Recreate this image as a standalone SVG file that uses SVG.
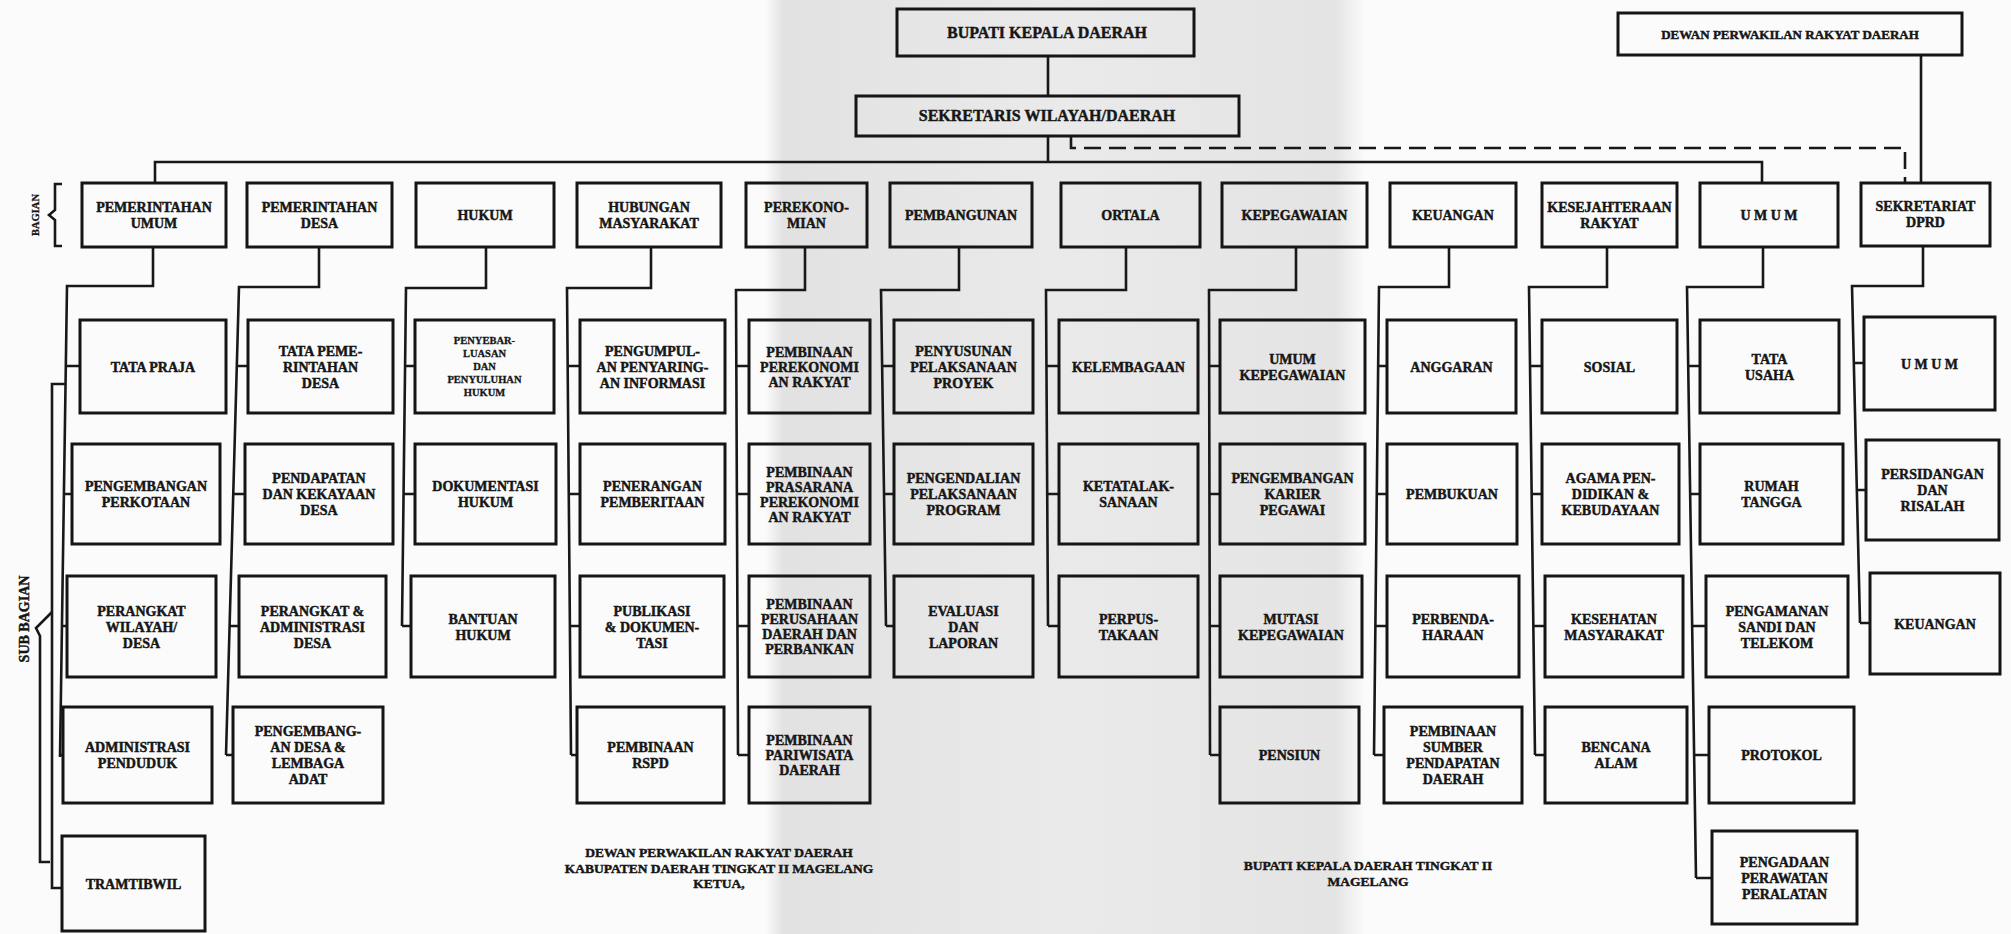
<svg xmlns="http://www.w3.org/2000/svg" width="2011" height="934" viewBox="0 0 2011 934">
<defs>
<linearGradient id="band" x1="0" y1="0" x2="1" y2="0">
<stop offset="0" stop-color="#fbfbfb"/>
<stop offset="0.03" stop-color="#e2e2e2"/>
<stop offset="0.5" stop-color="#eaeaea"/>
<stop offset="0.95" stop-color="#e4e4e4"/>
<stop offset="1" stop-color="#fbfbfb"/>
</linearGradient>
<style>
.bx{fill:none;stroke:#151515;stroke-width:3}
.ln{fill:none;stroke:#181818;stroke-width:2.6}
.ds{fill:none;stroke:#181818;stroke-width:2.6;stroke-dasharray:17 8}
.t{font-family:"Liberation Serif","Times New Roman",serif;font-weight:700;font-size:14px;fill:#161616;stroke:#161616;stroke-width:0.45;text-anchor:middle}
.s{font-size:10.5px;stroke-width:0.3}
.h{font-size:16px}
.m{font-size:13px}
.b{font-size:13.5px}
</style>
</defs>
<rect x="0" y="0" width="2011" height="934" fill="#fbfbfb"/>
<rect x="765" y="0" width="600" height="934" fill="url(#band)"/>

<g id="connectors">
<path class="ln" d="M1048 56V96M1048 136V162M155 183V162H1762V183M1921 55V183"/>
<path class="ds" d="M1071 136V148H1905V183"/>
<path class="ln" d="M153 247V286H67L60 757M66 366H80M64 494H72M62 626H67M60 755H64M66 384H52V888H62"/>
<path class="ln" d="M52 612L36 628L40 636V862H50"/>
<path class="ln" d="M62 184H55V210L49 215L55 220V246H62"/>
<path class="ln" d="M319 247V287H239L226 755M237 366H248M233 494H245M230 626H239M226 755H233"/>
<path class="ln" d="M486 247V288H406L402 626M405 366H415M404 494H415M402 626H411"/>
<path class="ln" d="M651 247V288H567L571 755M568 366H580M569 494H580M570 626H580M571 755H577"/>
<path class="ln" d="M805 247V290H736L738 755M736 366H749M737 494H749M737 626H749M738 755H749"/>
<path class="ln" d="M959 247V290H881L886 626M882 366H894M884 494H894M886 626H894"/>
<path class="ln" d="M1126 247V290H1046L1048 626M1046 366H1059M1047 494H1059M1048 626H1059"/>
<path class="ln" d="M1296 247V290H1209L1210 755M1209 366H1220M1209 494H1220M1210 626H1220M1210 755H1220"/>
<path class="ln" d="M1449 247V287H1379L1374 755M1378 366H1387M1377 494H1387M1376 626H1387M1374 755H1384"/>
<path class="ln" d="M1607 247V287H1529L1535 755M1530 366H1542M1532 494H1542M1533 626H1545M1535 755H1545"/>
<path class="ln" d="M1763 247V287H1687L1696 878M1688 366H1700M1690 494H1700M1692 626H1706M1694 755H1709M1696 878H1712"/>
<path class="ln" d="M1923 246V286H1852L1860 623M1854 363H1864M1857 490H1866M1860 623H1870"/>
</g>

<g id="bupati"><rect class="bx" x="897" y="9" width="297" height="47"/><text class="t h" x="1047" y="38">BUPATI KEPALA DAERAH</text></g>
<g id="sekwilda"><rect class="bx" x="856" y="96" width="383" height="40"/><text class="t h" x="1047" y="121">SEKRETARIS WILAYAH/DAERAH</text></g>
<g id="dprd"><rect class="bx" x="1618" y="13" width="344" height="42"/><text class="t m" x="1790" y="39">DEWAN PERWAKILAN RAKYAT DAERAH</text></g>

<g id="label-bagian"><text class="t s" transform="translate(39 215) rotate(-90)">BAGIAN</text></g>
<g id="label-subbagian"><text class="t" transform="translate(29 619) rotate(-90)">SUB BAGIAN</text></g>

<g id="b1"><rect class="bx" x="82" y="183" width="144" height="64"/><text class="t" x="154" y="212">PEMERINTAHAN<tspan x="154" dy="16">UMUM</tspan></text></g>
<g id="b2"><rect class="bx" x="247" y="183" width="145" height="64"/><text class="t" x="319.5" y="212">PEMERINTAHAN<tspan x="319.5" dy="16">DESA</tspan></text></g>
<g id="b3"><rect class="bx" x="416" y="183" width="138" height="64"/><text class="t" x="485" y="220">HUKUM</text></g>
<g id="b4"><rect class="bx" x="577" y="183" width="144" height="64"/><text class="t" x="649" y="212">HUBUNGAN<tspan x="649" dy="16">MASYARAKAT</tspan></text></g>
<g id="b5"><rect class="bx" x="746" y="183" width="121" height="64"/><text class="t" x="806.5" y="212">PEREKONO-<tspan x="806.5" dy="16">MIAN</tspan></text></g>
<g id="b6"><rect class="bx" x="890" y="183" width="142" height="64"/><text class="t" x="961" y="220">PEMBANGUNAN</text></g>
<g id="b7"><rect class="bx" x="1061" y="183" width="139" height="64"/><text class="t" x="1130.5" y="220">ORTALA</text></g>
<g id="b8"><rect class="bx" x="1222" y="183" width="145" height="64"/><text class="t" x="1294.5" y="220">KEPEGAWAIAN</text></g>
<g id="b9"><rect class="bx" x="1390" y="183" width="126" height="64"/><text class="t" x="1453" y="220">KEUANGAN</text></g>
<g id="b10"><rect class="bx" x="1542" y="183" width="135" height="64"/><text class="t" x="1609.5" y="212">KESEJAHTERAAN<tspan x="1609.5" dy="16">RAKYAT</tspan></text></g>
<g id="b11"><rect class="bx" x="1700" y="183" width="138" height="64"/><text class="t" x="1769" y="220">U M U M</text></g>
<g id="b12"><rect class="bx" x="1861" y="183" width="129" height="63"/><text class="t" x="1925.5" y="211">SEKRETARIAT<tspan x="1925.5" dy="16">DPRD</tspan></text></g>

<g id="s1-1"><rect class="bx" x="80" y="320" width="146" height="93"/><text class="t" x="153" y="371.5">TATA PRAJA</text></g>
<g id="s1-2"><rect class="bx" x="72" y="444" width="148" height="100"/><text class="t" x="146" y="491">PENGEMBANGAN<tspan x="146" dy="16">PERKOTAAN</tspan></text></g>
<g id="s1-3"><rect class="bx" x="67" y="576" width="149" height="101"/><text class="t" x="141.5" y="615.5">PERANGKAT<tspan x="141.5" dy="16">WILAYAH/</tspan><tspan x="141.5" dy="16">DESA</tspan></text></g>
<g id="s1-4"><rect class="bx" x="63" y="707" width="149" height="96"/><text class="t" x="137.5" y="752">ADMINISTRASI<tspan x="137.5" dy="16">PENDUDUK</tspan></text></g>
<g id="s1-5"><rect class="bx" x="62" y="836" width="143" height="95"/><text class="t" x="133.5" y="888.5">TRAMTIBWIL</text></g>

<g id="s2-1"><rect class="bx" x="248" y="320" width="145" height="93"/><text class="t" x="320.5" y="355.5">TATA PEME-<tspan x="320.5" dy="16">RINTAHAN</tspan><tspan x="320.5" dy="16">DESA</tspan></text></g>
<g id="s2-2"><rect class="bx" x="245" y="444" width="148" height="100"/><text class="t" x="319" y="483">PENDAPATAN<tspan x="319" dy="16">DAN KEKAYAAN</tspan><tspan x="319" dy="16">DESA</tspan></text></g>
<g id="s2-3"><rect class="bx" x="239" y="576" width="147" height="101"/><text class="t" x="312.5" y="615.5">PERANGKAT &amp;<tspan x="312.5" dy="16">ADMINISTRASI</tspan><tspan x="312.5" dy="16">DESA</tspan></text></g>
<g id="s2-4"><rect class="bx" x="233" y="707" width="150" height="96"/><text class="t" x="308" y="736">PENGEMBANG-<tspan x="308" dy="16">AN DESA &amp;</tspan><tspan x="308" dy="16">LEMBAGA</tspan><tspan x="308" dy="16">ADAT</tspan></text></g>

<g id="s3-1"><rect class="bx" x="415" y="320" width="139" height="93"/><text class="t s" x="484.5" y="344">PENYEBAR-<tspan x="484.5" dy="13">LUASAN</tspan><tspan x="484.5" dy="13">DAN</tspan><tspan x="484.5" dy="13">PENYULUHAN</tspan><tspan x="484.5" dy="13">HUKUM</tspan></text></g>
<g id="s3-2"><rect class="bx" x="415" y="444" width="141" height="100"/><text class="t" x="485.5" y="491">DOKUMENTASI<tspan x="485.5" dy="16">HUKUM</tspan></text></g>
<g id="s3-3"><rect class="bx" x="411" y="576" width="144" height="101"/><text class="t" x="483" y="623.5">BANTUAN<tspan x="483" dy="16">HUKUM</tspan></text></g>

<g id="s4-1"><rect class="bx" x="580" y="320" width="145" height="93"/><text class="t" x="652.5" y="355.5">PENGUMPUL-<tspan x="652.5" dy="16">AN PENYARING-</tspan><tspan x="652.5" dy="16">AN INFORMASI</tspan></text></g>
<g id="s4-2"><rect class="bx" x="580" y="444" width="145" height="100"/><text class="t" x="652.5" y="491">PENERANGAN<tspan x="652.5" dy="16">PEMBERITAAN</tspan></text></g>
<g id="s4-3"><rect class="bx" x="580" y="576" width="144" height="101"/><text class="t" x="652" y="615.5">PUBLIKASI<tspan x="652" dy="16">&amp; DOKUMEN-</tspan><tspan x="652" dy="16">TASI</tspan></text></g>
<g id="s4-4"><rect class="bx" x="577" y="707" width="147" height="96"/><text class="t" x="650.5" y="752">PEMBINAAN<tspan x="650.5" dy="16">RSPD</tspan></text></g>

<g id="s5-1"><rect class="bx" x="749" y="320" width="121" height="93"/><text class="t" x="809.5" y="356.5">PEMBINAAN<tspan x="809.5" dy="15">PEREKONOMI</tspan><tspan x="809.5" dy="15">AN RAKYAT</tspan></text></g>
<g id="s5-2"><rect class="bx" x="749" y="444" width="121" height="100"/><text class="t" x="809.5" y="476.5">PEMBINAAN<tspan x="809.5" dy="15">PRASARANA</tspan><tspan x="809.5" dy="15">PEREKONOMI</tspan><tspan x="809.5" dy="15">AN RAKYAT</tspan></text></g>
<g id="s5-3"><rect class="bx" x="749" y="576" width="121" height="101"/><text class="t" x="809.5" y="609">PEMBINAAN<tspan x="809.5" dy="15">PERUSAHAAN</tspan><tspan x="809.5" dy="15">DAERAH DAN</tspan><tspan x="809.5" dy="15">PERBANKAN</tspan></text></g>
<g id="s5-4"><rect class="bx" x="749" y="707" width="121" height="96"/><text class="t" x="809.5" y="745">PEMBINAAN<tspan x="809.5" dy="15">PARIWISATA</tspan><tspan x="809.5" dy="15">DAERAH</tspan></text></g>

<g id="s6-1"><rect class="bx" x="894" y="320" width="139" height="93"/><text class="t" x="963.5" y="355.5">PENYUSUNAN<tspan x="963.5" dy="16">PELAKSANAAN</tspan><tspan x="963.5" dy="16">PROYEK</tspan></text></g>
<g id="s6-2"><rect class="bx" x="894" y="444" width="139" height="100"/><text class="t" x="963.5" y="483">PENGENDALIAN<tspan x="963.5" dy="16">PELAKSANAAN</tspan><tspan x="963.5" dy="16">PROGRAM</tspan></text></g>
<g id="s6-3"><rect class="bx" x="894" y="576" width="139" height="101"/><text class="t" x="963.5" y="615.5">EVALUASI<tspan x="963.5" dy="16">DAN</tspan><tspan x="963.5" dy="16">LAPORAN</tspan></text></g>

<g id="s7-1"><rect class="bx" x="1059" y="320" width="139" height="93"/><text class="t" x="1128.5" y="371.5">KELEMBAGAAN</text></g>
<g id="s7-2"><rect class="bx" x="1059" y="444" width="139" height="100"/><text class="t" x="1128.5" y="491">KETATALAK-<tspan x="1128.5" dy="16">SANAAN</tspan></text></g>
<g id="s7-3"><rect class="bx" x="1059" y="576" width="139" height="101"/><text class="t" x="1128.5" y="623.5">PERPUS-<tspan x="1128.5" dy="16">TAKAAN</tspan></text></g>

<g id="s8-1"><rect class="bx" x="1220" y="320" width="145" height="93"/><text class="t" x="1292.5" y="363.5">UMUM<tspan x="1292.5" dy="16">KEPEGAWAIAN</tspan></text></g>
<g id="s8-2"><rect class="bx" x="1220" y="444" width="145" height="100"/><text class="t" x="1292.5" y="483">PENGEMBANGAN<tspan x="1292.5" dy="16">KARIER</tspan><tspan x="1292.5" dy="16">PEGAWAI</tspan></text></g>
<g id="s8-3"><rect class="bx" x="1220" y="576" width="142" height="101"/><text class="t" x="1291" y="623.5">MUTASI<tspan x="1291" dy="16">KEPEGAWAIAN</tspan></text></g>
<g id="s8-4"><rect class="bx" x="1220" y="707" width="139" height="96"/><text class="t" x="1289.5" y="760">PENSIUN</text></g>

<g id="s9-1"><rect class="bx" x="1387" y="320" width="129" height="93"/><text class="t" x="1451.5" y="371.5">ANGGARAN</text></g>
<g id="s9-2"><rect class="bx" x="1387" y="444" width="130" height="100"/><text class="t" x="1452" y="499">PEMBUKUAN</text></g>
<g id="s9-3"><rect class="bx" x="1387" y="576" width="132" height="101"/><text class="t" x="1453" y="623.5">PERBENDA-<tspan x="1453" dy="16">HARAAN</tspan></text></g>
<g id="s9-4"><rect class="bx" x="1384" y="707" width="138" height="96"/><text class="t" x="1453" y="736">PEMBINAAN<tspan x="1453" dy="16">SUMBER</tspan><tspan x="1453" dy="16">PENDAPATAN</tspan><tspan x="1453" dy="16">DAERAH</tspan></text></g>

<g id="s10-1"><rect class="bx" x="1542" y="320" width="135" height="93"/><text class="t" x="1609.5" y="371.5">SOSIAL</text></g>
<g id="s10-2"><rect class="bx" x="1542" y="444" width="137" height="100"/><text class="t" x="1610.5" y="483">AGAMA PEN-<tspan x="1610.5" dy="16">DIDIKAN &amp;</tspan><tspan x="1610.5" dy="16">KEBUDAYAAN</tspan></text></g>
<g id="s10-3"><rect class="bx" x="1545" y="576" width="138" height="101"/><text class="t" x="1614" y="623.5">KESEHATAN<tspan x="1614" dy="16">MASYARAKAT</tspan></text></g>
<g id="s10-4"><rect class="bx" x="1545" y="707" width="142" height="96"/><text class="t" x="1616" y="752">BENCANA<tspan x="1616" dy="16">ALAM</tspan></text></g>

<g id="s11-1"><rect class="bx" x="1700" y="320" width="139" height="93"/><text class="t" x="1769.5" y="363.5">TATA<tspan x="1769.5" dy="16">USAHA</tspan></text></g>
<g id="s11-2"><rect class="bx" x="1700" y="444" width="143" height="100"/><text class="t" x="1771.5" y="491">RUMAH<tspan x="1771.5" dy="16">TANGGA</tspan></text></g>
<g id="s11-3"><rect class="bx" x="1706" y="576" width="142" height="101"/><text class="t" x="1777" y="615.5">PENGAMANAN<tspan x="1777" dy="16">SANDI DAN</tspan><tspan x="1777" dy="16">TELEKOM</tspan></text></g>
<g id="s11-4"><rect class="bx" x="1709" y="707" width="145" height="96"/><text class="t" x="1781.5" y="760">PROTOKOL</text></g>
<g id="s11-5"><rect class="bx" x="1712" y="831" width="145" height="93"/><text class="t" x="1784.5" y="866.5">PENGADAAN<tspan x="1784.5" dy="16">PERAWATAN</tspan><tspan x="1784.5" dy="16">PERALATAN</tspan></text></g>

<g id="s12-1"><rect class="bx" x="1864" y="317" width="131" height="93"/><text class="t" x="1929.5" y="368.5">U M U M</text></g>
<g id="s12-2"><rect class="bx" x="1866" y="440" width="133" height="100"/><text class="t" x="1932.5" y="479">PERSIDANGAN<tspan x="1932.5" dy="16">DAN</tspan><tspan x="1932.5" dy="16">RISALAH</tspan></text></g>
<g id="s12-3"><rect class="bx" x="1870" y="573" width="130" height="101"/><text class="t" x="1935" y="628.5">KEUANGAN</text></g>

<g id="sign-dprd"><text class="t b" x="719" y="857">DEWAN PERWAKILAN RAKYAT DAERAH<tspan x="719" dy="15.5">KABUPATEN DAERAH TINGKAT II MAGELANG</tspan><tspan x="719" dy="15.5">KETUA,</tspan></text></g>
<g id="sign-bupati"><text class="t b" x="1368" y="870">BUPATI KEPALA DAERAH TINGKAT II<tspan x="1368" dy="15.5">MAGELANG</tspan></text></g>
</svg>
